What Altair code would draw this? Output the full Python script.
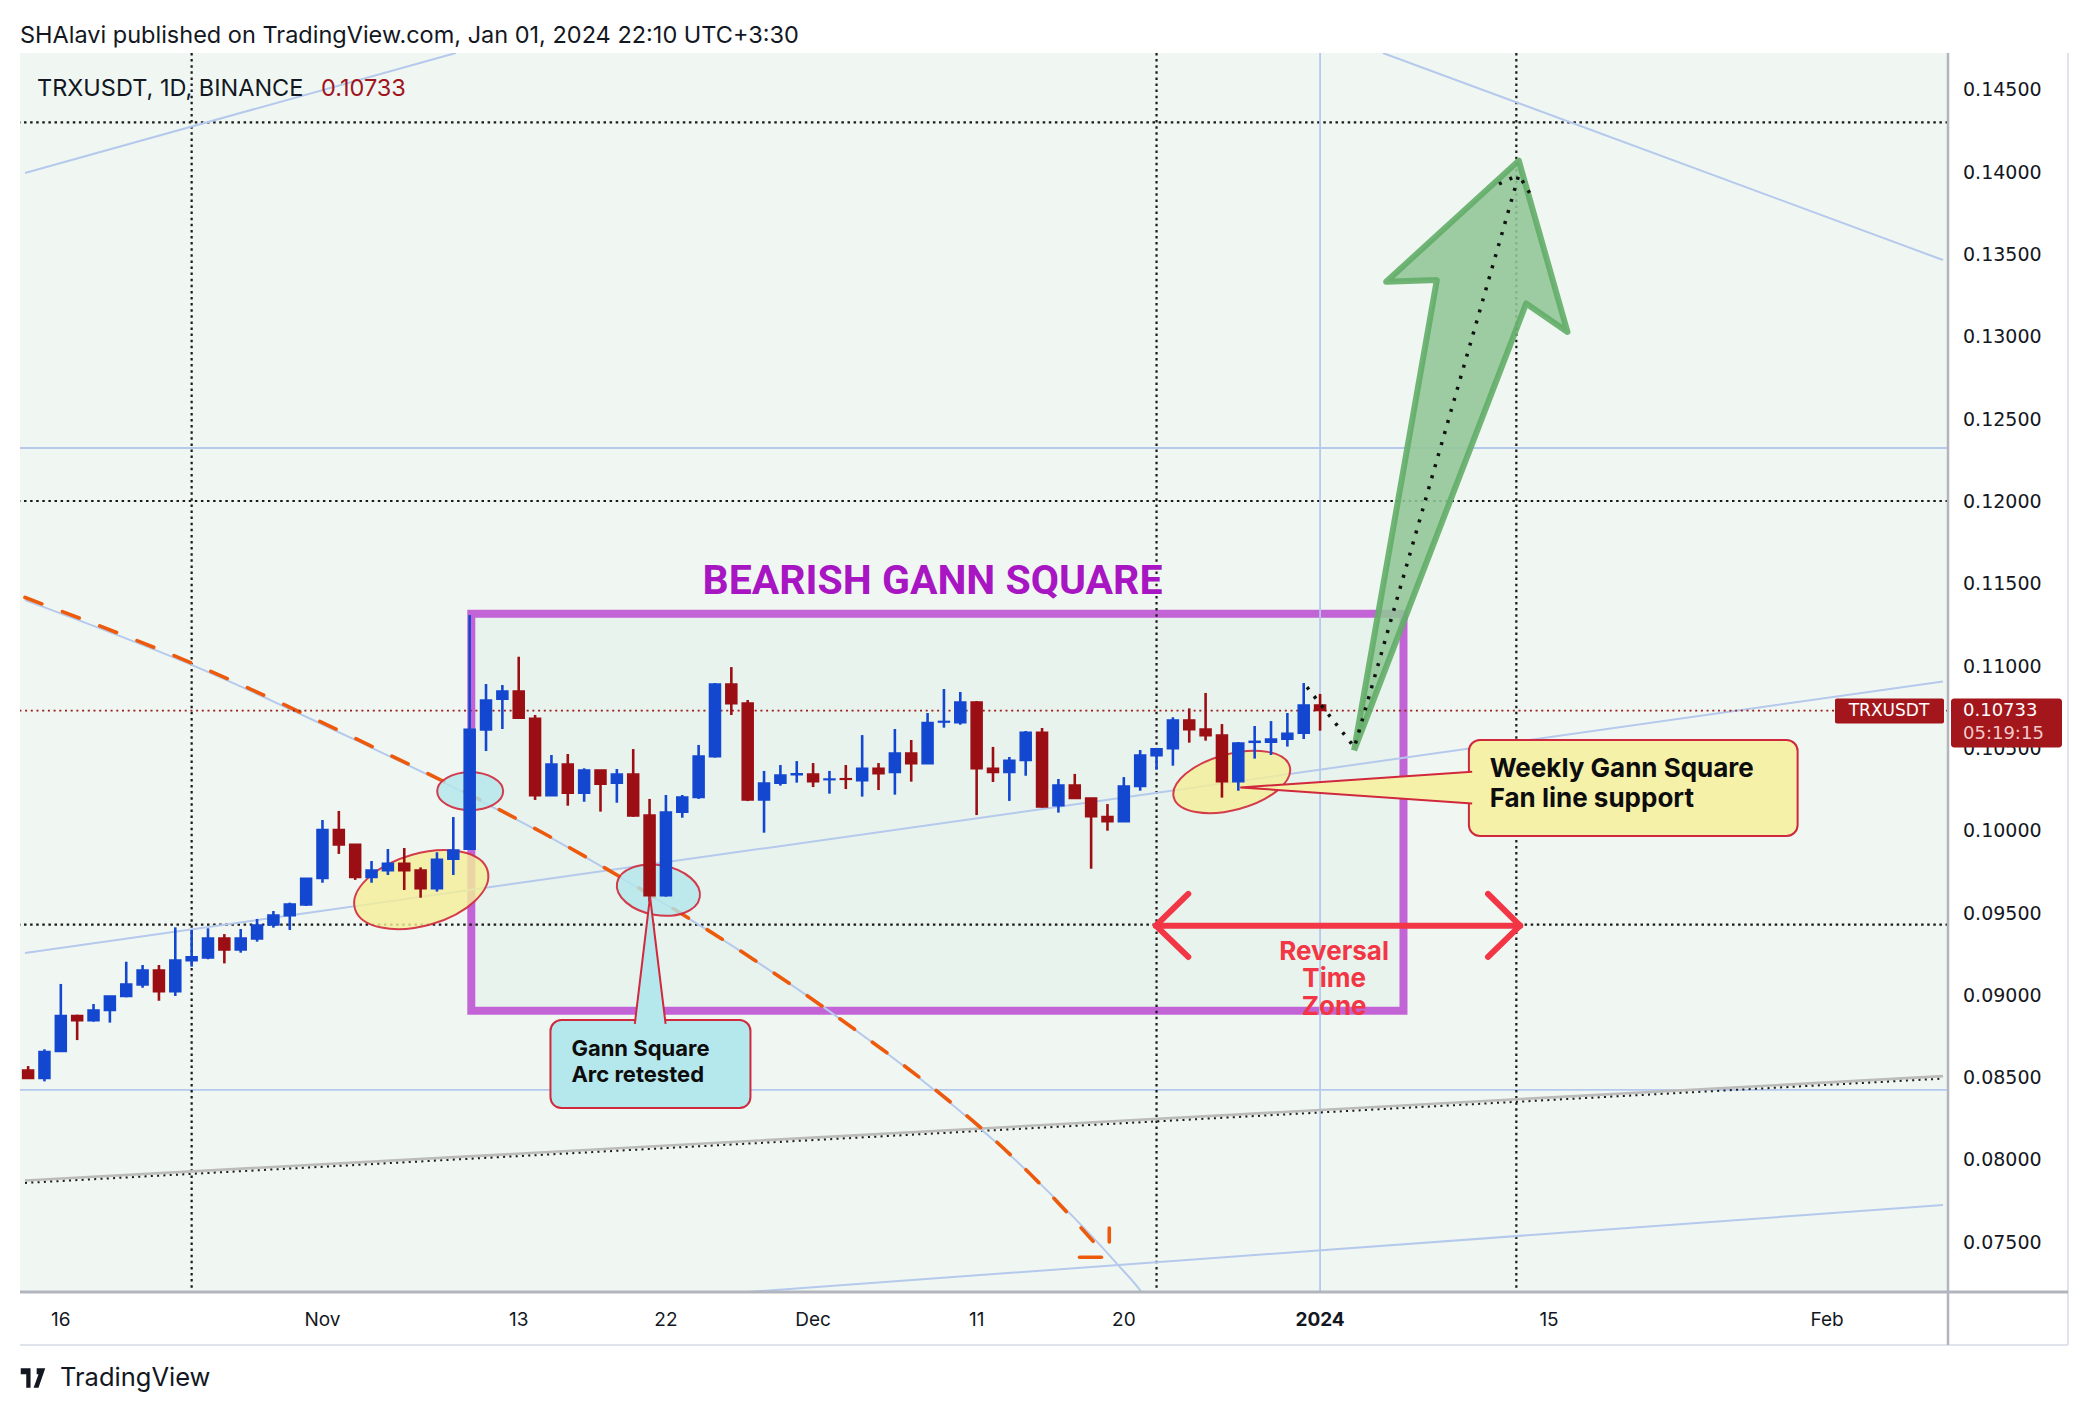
import altair as alt
import pandas as pd

# ---------------- candles (TRXUSDT 1D) ----------------
first_date = "2023-10-14"
origin_date = "2023-10-16"  # day 0 of the x scale
opens = [
    0.08549, 0.08497, 0.08661, 0.08881, 0.08849, 0.08910, 0.08995, 0.09066, 0.09157, 0.09025,
    0.09213, 0.09230, 0.09351, 0.09278, 0.09345, 0.09430, 0.09487, 0.09552,
    0.09712, 0.10011, 0.09920, 0.09718, 0.09760, 0.09805, 0.09764, 0.09651, 0.09829, 0.09890,
    0.10615, 0.10801, 0.10852, 0.10686, 0.10216, 0.10408, 0.10230, 0.10372, 0.10291, 0.10347,
    0.10098, 0.09608, 0.10115, 0.10204, 0.10453, 0.10894, 0.10779, 0.10190, 0.10291, 0.10343,
    0.10347, 0.10313, 0.10319, 0.10307, 0.10382, 0.10356, 0.10475, 0.10410, 0.10663, 0.10659,
    0.10785, 0.10382, 0.10356, 0.10429, 0.10601, 0.10155, 0.10281, 0.10202, 0.10090, 0.10058,
    0.10271, 0.10459, 0.10501, 0.10676, 0.10621, 0.10584, 0.10301, 0.10540, 0.10540, 0.10558,
    0.10595, 0.10767]
highs = [
    0.08573, 0.08675, 0.09072, 0.08885, 0.08950, 0.08999, 0.09207, 0.09187, 0.09187, 0.09416,
    0.09400, 0.09410, 0.09375, 0.09406, 0.09467, 0.09515, 0.09566, 0.09714,
    0.10068, 0.10123, 0.09920, 0.09819, 0.09892, 0.09898, 0.09780, 0.09872, 0.10086, 0.11313,
    0.10894, 0.10888, 0.11060, 0.10706, 0.10463, 0.10469, 0.10382, 0.10372, 0.10378, 0.10499,
    0.10196, 0.10220, 0.10220, 0.10524, 0.10900, 0.10997, 0.10797, 0.10366, 0.10402, 0.10426,
    0.10414, 0.10366, 0.10402, 0.10584, 0.10414, 0.10621, 0.10554, 0.10718, 0.10864, 0.10846,
    0.10791, 0.10512, 0.10451, 0.10609, 0.10627, 0.10317, 0.10348, 0.10202, 0.10165, 0.10329,
    0.10493, 0.10506, 0.10692, 0.10746, 0.10840, 0.10651, 0.10542, 0.10639, 0.10669, 0.10718,
    0.10900, 0.10834]
lows = [
    0.08497, 0.08480, 0.08661, 0.08731, 0.08843, 0.08837, 0.08991, 0.09049, 0.08970, 0.08999,
    0.09177, 0.09222, 0.09197, 0.09262, 0.09329, 0.09414, 0.09400, 0.09546,
    0.09687, 0.09862, 0.09704, 0.09687, 0.09734, 0.09643, 0.09596, 0.09633, 0.09734, 0.09890,
    0.10487, 0.10621, 0.10686, 0.10190, 0.10216, 0.10155, 0.10179, 0.10119, 0.10173, 0.10088,
    0.09572, 0.09602, 0.10082, 0.10196, 0.10447, 0.10706, 0.10183, 0.09991, 0.10277, 0.10295,
    0.10268, 0.10228, 0.10256, 0.10210, 0.10250, 0.10222, 0.10301, 0.10410, 0.10629, 0.10647,
    0.10098, 0.10299, 0.10184, 0.10337, 0.10143, 0.10113, 0.10198, 0.09772, 0.10003, 0.10058,
    0.10246, 0.10374, 0.10398, 0.10538, 0.10550, 0.10204, 0.10246, 0.10441, 0.10463, 0.10514,
    0.10560, 0.10611]
closes = [
    0.08497, 0.08661, 0.08881, 0.08849, 0.08914, 0.08999, 0.09072, 0.09157, 0.09025, 0.09217,
    0.09238, 0.09351, 0.09278, 0.09351, 0.09430, 0.09491, 0.09558, 0.09714,
    0.10011, 0.09916, 0.09718, 0.09764, 0.09805, 0.09760, 0.09651, 0.09829, 0.09886, 0.10619,
    0.10797, 0.10852, 0.10686, 0.10216, 0.10408, 0.10230, 0.10372, 0.10285, 0.10347, 0.10092,
    0.09608, 0.10117, 0.10208, 0.10457, 0.10894, 0.10775, 0.10190, 0.10293, 0.10341, 0.10349,
    0.10301, 0.10317, 0.10315, 0.10382, 0.10349, 0.10475, 0.10410, 0.10661, 0.10667, 0.10785,
    0.10380, 0.10356, 0.10431, 0.10601, 0.10147, 0.10281, 0.10198, 0.10088, 0.10058, 0.10275,
    0.10463, 0.10501, 0.10676, 0.10617, 0.10580, 0.10301, 0.10536, 0.10546, 0.10560, 0.10595,
    0.10767, 0.10733]
last_price = 0.10733

# ---------------- axes ----------------
x_domain = [-2.19, 115.09]
y_domain = [0.072005, 0.147278]
tick_days = [0, 16, 28, 37, 46, 56, 65, 77, 91, 108]
tick_labels = ["16", "Nov", "13", "22", "Dec", "11", "20", "2024", "15", "Feb"]
tick_bold = [False, False, False, False, False, False, False, True, False, False]
price_ticks = [0.075, 0.080, 0.085, 0.090, 0.095, 0.100, 0.105, 0.110,
               0.115, 0.120, 0.125, 0.130, 0.135, 0.140, 0.145]

# ---------------- drawings (day offset, price) ----------------
hline_dotted = [0.14306, 0.12006, 0.09432]
hline_blue = [0.12328, 0.08428]
vline_dotted = [8, 67, 89]
vline_blue = [77]
fan_x1 = [-2.19, 80.84, -2.19, 39.9]
fan_y1 = [0.13999, 0.14728, 0.09260, 0.07185]
fan_x2 = [24.15, 115.09, 115.09, 115.09]
fan_y2 = [0.14728, 0.13470, 0.10910, 0.07729]
grey_x = [-2.19, 115.09]
grey_y = [0.07869, 0.08503]
arc_x = [-2.19, 8.03, 18.92, 23.36, 29.44, 35.52, 42.40, 46.47, 59.85, 64.60, 66.12, 67.15]
arc_y = [0.11404, 0.11009, 0.10511, 0.10298, 0.09988, 0.09642, 0.09217, 0.08943,
         0.07862, 0.07370, 0.07194, 0.07030]
orange_x = [-2.19, 8.03, 18.92, 23.36, 29.44, 35.52, 42.40, 46.47, 59.85, 63.99]
orange_y = [0.11420, 0.11020, 0.10520, 0.10305, 0.09992, 0.09645, 0.09218, 0.08943,
            0.07860, 0.07412]
orange_head_x1 = [64.11, 62.29]
orange_head_y1 = [0.07589, 0.07412]
orange_head_x2 = [64.11, 63.63]
orange_head_y2 = [0.07504, 0.07412]
box_x = [25.1, 82.1]
box_y = [0.08909, 0.11321]
box_title = "BEARISH GANN SQUARE"
box_title_pos = [53.3, 0.11514]

yellow_ell_x = [22.04, 71.6]
yellow_ell_y = [0.09645, 0.10299]
yellow_ell_a = [69, 60]
yellow_ell_b = [36, 28]
yellow_ell_angle = [344, 345]
cyan_ell_x = [25.03, 36.54]
cyan_ell_y = [0.10243, 0.09642]
cyan_ell_a = [33, 42]
cyan_ell_b = [19, 25]
cyan_ell_angle = [0, 10]

call1_box_x = [29.94, 42.17]
call1_box_y = [0.08318, 0.08853]
call1_ptr_x = [35.1, 36.03, 36.98]
call1_ptr_y = [0.08830, 0.09602, 0.08830]
call1_text = ["Gann Square", "Arc retested"]
call1_text_x = [31.22, 31.22]
call1_text_y = [0.08676, 0.08516]

call2_box_x = [86.1, 106.2]
call2_box_y = [0.09971, 0.10554]
call2_ptr_x = [86.3, 72.12, 86.3]
call2_ptr_y = [0.10361, 0.10266, 0.10169]
call2_text = ["Weekly Gann Square", "Fan line support"]
call2_text_x = [87.37, 87.37]
call2_text_y = [0.10375, 0.10196]

zone_x1 = [66.96, 68.94, 68.94, 89.23, 89.23]
zone_y1 = [0.09426, 0.09619, 0.09236, 0.09426, 0.09426]
zone_x2 = [89.23, 66.96, 66.96, 87.27, 87.27]
zone_y2 = [0.09426, 0.09426, 0.09426, 0.09619, 0.09236]
zone_text = ["Reversal", "Time", "Zone"]
zone_text_x = [77.86, 77.86, 77.86]
zone_text_y = [0.09268, 0.09100, 0.08934]

arrow_x = [79.08, 84.14, 81.04, 89.15, 92.13, 89.60, 79.08]
arrow_y = [0.10491, 0.13348, 0.13338, 0.14074, 0.13033, 0.13206, 0.10491]
path_x = [76.2, 79.1, 89.15, 89.97]
path_y = [0.10875, 0.10510, 0.13987, 0.13851]
path2_x = [87.94, 89.15]
path2_y = [0.13932, 0.13987]

header = "SHAlavi published on TradingView.com, Jan 01, 2024 22:10 UTC+3:30"
symbol_text = "TRXUSDT, 1D, BINANCE"
countdown = "05:19:15"

# ---------------- styling ----------------
BLUE = "#1447d0"
RED = "#9b0f14"
MINT = "#f0f7f2"
LBLUE = "#b5c9ec"
AXIS_GREY = "#b2b5be"
W, H = 1928, 1239

day0 = pd.Timestamp(origin_date)
dates = pd.date_range(first_date, periods=len(opens), freq="D")
candles = pd.DataFrame({
    "day": (dates - day0).days,
    "o": opens, "h": highs, "l": lows, "c": closes,
})
candles["lo"] = candles[["o", "c"]].min(axis=1)
candles["hi"] = candles[["o", "c"]].max(axis=1)

xs = alt.Scale(domain=x_domain, nice=False, zero=False)
ys = alt.Scale(domain=y_domain, nice=False, zero=False)


def X(f):
    return alt.X(f, type="quantitative", scale=xs, axis=None)


def Y(f):
    return alt.Y(f, type="quantitative", scale=ys, axis=None)


layers = []

# purple gann box
box_df = pd.DataFrame({"x1": [box_x[0]], "x2": [box_x[1]], "y1": [box_y[0]], "y2": [box_y[1]]})
layers.append(alt.Chart(box_df).mark_rect(fill="#e8f3ed", stroke="#c264d6", strokeWidth=8).encode(
    x=X("x1"), x2="x2", y=Y("y1"), y2="y2"))

# horizontal / vertical levels
layers.append(alt.Chart(pd.DataFrame({"p": hline_dotted})).mark_rule(
    color="#1a1a1a", strokeWidth=2.2, strokeDash=[2.5, 3.6]).encode(y=Y("p")))
layers.append(alt.Chart(pd.DataFrame({"p": hline_blue})).mark_rule(
    color=LBLUE, strokeWidth=1.8).encode(y=Y("p")))
layers.append(alt.Chart(pd.DataFrame({"d": vline_dotted})).mark_rule(
    color="#1a1a1a", strokeWidth=2.2, strokeDash=[2.5, 3.6]).encode(x=X("d")))
layers.append(alt.Chart(pd.DataFrame({"d": vline_blue})).mark_rule(
    color=LBLUE, strokeWidth=1.8).encode(x=X("d")))

# fan lines
fan_df = pd.DataFrame({"x1": fan_x1, "y1": fan_y1, "x2": fan_x2, "y2": fan_y2})
layers.append(alt.Chart(fan_df).mark_rule(color=LBLUE, strokeWidth=2, clip=True).encode(
    x=X("x1"), y=Y("y1"), x2="x2", y2="y2"))
grey_df = pd.DataFrame({"x1": [grey_x[0]], "y1": [grey_y[0]], "x2": [grey_x[1]], "y2": [grey_y[1]]})
layers.append(alt.Chart(grey_df).mark_rule(color="#bcbcbc", strokeWidth=2.6, clip=True,
                                           yOffset=-1.5, y2Offset=-1.5).encode(
    x=X("x1"), y=Y("y1"), x2="x2", y2="y2"))
layers.append(alt.Chart(grey_df).mark_rule(color="#1a1a1a", strokeWidth=2, strokeDash=[2, 4.3],
                                           clip=True, yOffset=1, y2Offset=1).encode(
    x=X("x1"), y=Y("y1"), x2="x2", y2="y2"))

# gann arc + orange dashed trace
arc_df = pd.DataFrame({"x": arc_x, "y": arc_y, "i": range(len(arc_x))})
layers.append(alt.Chart(arc_df).mark_line(color=LBLUE, strokeWidth=2, interpolate="monotone",
                                          clip=True).encode(x=X("x"), y=Y("y"), order="i:Q"))
or_df = pd.DataFrame({"x": orange_x, "y": orange_y, "i": range(len(orange_x))})
layers.append(alt.Chart(or_df).mark_line(color="#ee5a0c", strokeWidth=3.6, strokeDash=[18, 22],
                                         strokeCap="round", interpolate="monotone",
                                         clip=True).encode(x=X("x"), y=Y("y"), order="i:Q"))
orh_df = pd.DataFrame({"x1": orange_head_x1, "y1": orange_head_y1,
                       "x2": orange_head_x2, "y2": orange_head_y2})
layers.append(alt.Chart(orh_df).mark_rule(color="#ee5a0c", strokeWidth=3.6, strokeCap="round").encode(
    x=X("x1"), y=Y("y1"), x2="x2", y2="y2"))

# last price line
layers.append(alt.Chart(pd.DataFrame({"p": [last_price]})).mark_rule(
    color="#9b1a1a", strokeWidth=1.8, strokeDash=[2, 3.7]).encode(y=Y("p")))


def ellipse_df(xv, yv, av, bv, angv):
    rows = []
    for x, y, a, b, ang in zip(xv, yv, av, bv, angv):
        r = b / a
        path = f"M-1,0A1,{r:.4f},0,1,1,1,0A1,{r:.4f},0,1,1,-1,0Z"
        rows.append({"x": x, "y": y, "shape": path, "size": (2 * a) ** 2, "angle": ang})
    return pd.DataFrame(rows)


for df, fill in [(ellipse_df(yellow_ell_x, yellow_ell_y, yellow_ell_a, yellow_ell_b, yellow_ell_angle), "#f4ee98"),
                 (ellipse_df(cyan_ell_x, cyan_ell_y, cyan_ell_a, cyan_ell_b, cyan_ell_angle), "#b3e6ec")]:
    layers.append(alt.Chart(df).mark_point(filled=True, fill=fill, fillOpacity=0.82, stroke="#d0283c",
                                           strokeWidth=2, strokeOpacity=0.9, opacity=1).encode(
        x=X("x"), y=Y("y"),
        shape=alt.Shape("shape:N", scale=None),
        size=alt.Size("size:Q", scale=None),
        angle=alt.Angle("angle:Q", scale=None)))

# candles
col = alt.condition("datum.c >= datum.o", alt.value(BLUE), alt.value(RED))
layers.append(alt.Chart(candles).mark_rule(strokeWidth=2.6, clip=True).encode(
    x=X("day"), y=Y("l"), y2="h", color=col))
layers.append(alt.Chart(candles).mark_bar(size=11, strokeWidth=1.5, clip=True).encode(
    x=X("day"), y=Y("lo"), y2="hi", color=col, stroke=col))

# callouts
for bx, by, px, py, txt, tx, ty, fill, fsize in [
        (call1_box_x, call1_box_y, call1_ptr_x, call1_ptr_y, call1_text, call1_text_x, call1_text_y, "#b5e8ec", 22),
        (call2_box_x, call2_box_y, call2_ptr_x, call2_ptr_y, call2_text, call2_text_x, call2_text_y, "#f6f1a9", 26)]:
    bdf = pd.DataFrame({"x1": [bx[0]], "x2": [bx[1]], "y1": [by[0]], "y2": [by[1]]})
    layers.append(alt.Chart(bdf).mark_rect(fill=fill, stroke="#d0283c", strokeWidth=2,
                                           cornerRadius=11).encode(
        x=X("x1"), x2="x2", y=Y("y1"), y2="y2"))
    pdf = pd.DataFrame({"x": px, "y": py, "i": range(len(px))})
    layers.append(alt.Chart(pdf).mark_line(fill=fill, stroke="#d0283c", strokeWidth=2,
                                           strokeJoin="miter").encode(
        x=X("x"), y=Y("y"), order="i:Q"))
    tdf = pd.DataFrame({"x": tx, "y": ty, "t": txt})
    layers.append(alt.Chart(tdf).mark_text(align="left", baseline="middle", font="Inter",
                                           fontWeight="bold", fontSize=fsize, color="#0d0d0d").encode(
        x=X("x"), y=Y("y"), text="t:N"))

# reversal time zone
zdf = pd.DataFrame({"x1": zone_x1, "y1": zone_y1, "x2": zone_x2, "y2": zone_y2})
layers.append(alt.Chart(zdf).mark_rule(color="#f23645", strokeWidth=6, strokeCap="round").encode(
    x=X("x1"), y=Y("y1"), x2="x2", y2="y2"))
layers.append(alt.Chart(pd.DataFrame({"x": zone_text_x, "y": zone_text_y, "t": zone_text})).mark_text(
    align="center", baseline="middle", font="Inter", fontWeight="bold", fontSize=26,
    color="#f23645").encode(x=X("x"), y=Y("y"), text="t:N"))

# box title
layers.append(alt.Chart(pd.DataFrame({"x": [box_title_pos[0]], "y": [box_title_pos[1]], "t": [box_title]})).mark_text(
    align="center", baseline="middle", font="Roboto", fontWeight="bold", fontSize=41,
    color="#a815c2").encode(x=X("x"), y=Y("y"), text="t:N"))

# green arrow
adf = pd.DataFrame({"x": arrow_x, "y": arrow_y, "i": range(len(arrow_x))})
layers.append(alt.Chart(adf).mark_line(fill="#91c697", fillOpacity=0.88, stroke="#63ad68",
                                       strokeOpacity=0.9, strokeWidth=6, strokeJoin="round").encode(
    x=X("x"), y=Y("y"), order="i:Q"))
for pxs, pys in [(path_x, path_y), (path2_x, path2_y)]:
    pdf = pd.DataFrame({"x": pxs, "y": pys, "i": range(len(pxs))})
    layers.append(alt.Chart(pdf).mark_line(color="#111", strokeWidth=3.5, strokeDash=[3, 8.5]).encode(
        x=X("x"), y=Y("y"), order="i:Q"))

# axis frame lines
frame = pd.DataFrame({"k": [0]})
layers.append(alt.Chart(frame).mark_rule(color="#e0e3eb", strokeWidth=2).encode(
    x=alt.value(0), x2=alt.value(2048), y=alt.value(1292), y2=alt.value(1292)))
layers.append(alt.Chart(frame).mark_rule(color="#e0e3eb", strokeWidth=2).encode(
    x=alt.value(2048), x2=alt.value(2048), y=alt.value(0), y2=alt.value(1292)))
layers.append(alt.Chart(frame).mark_rule(color=AXIS_GREY, strokeWidth=2.5).encode(
    x=alt.value(1928), x2=alt.value(1928), y=alt.value(0), y2=alt.value(1292)))
layers.append(alt.Chart(frame).mark_rule(color=AXIS_GREY, strokeWidth=3).encode(
    x=alt.value(0), x2=alt.value(2048), y=alt.value(1239), y2=alt.value(1239)))

# price axis labels (through the y scale)
layers.append(alt.Chart(pd.DataFrame({"p": price_ticks})).mark_text(
    align="left", baseline="middle", font="DejaVu Sans", fontSize=19, color="#131722").encode(
    x=alt.value(1943), y=Y("p"), text=alt.Text("p:Q", format=".5f")))

# time axis labels (through the x scale)
tick_df = pd.DataFrame({"d": tick_days, "t": tick_labels, "b": tick_bold})
layers.append(alt.Chart(tick_df).transform_filter("!datum.b").mark_text(
    align="center", baseline="middle", font="Inter", fontSize=19, color="#131722").encode(
    x=X("d"), y=alt.value(1267), text="t:N"))
layers.append(alt.Chart(tick_df).transform_filter("datum.b").mark_text(
    align="center", baseline="middle", font="Inter", fontSize=19, fontWeight="bold",
    color="#131722").encode(x=X("d"), y=alt.value(1267), text="t:N"))

# price tags on the right
tag_df = pd.DataFrame({"p": [last_price], "name": ["TRXUSDT"], "price": [f"{last_price:.5f}"],
                       "cd": [countdown]})
layers.append(alt.Chart(tag_df).mark_rect(color="#a3161b", yOffset=-12, y2Offset=13, cornerRadius=2).encode(
    x=alt.value(1815), x2=alt.value(1924), y=Y("p"), y2="p"))
layers.append(alt.Chart(tag_df).mark_rect(color="#a3161b", yOffset=-12, y2Offset=37, cornerRadius=3).encode(
    x=alt.value(1931), x2=alt.value(2042), y=Y("p"), y2="p"))
layers.append(alt.Chart(tag_df).mark_text(align="center", baseline="middle", font="DejaVu Sans",
                                          fontSize=17, color="white").encode(
    x=alt.value(1869), y=Y("p"), text="name:N"))
layers.append(alt.Chart(tag_df).mark_text(align="left", baseline="middle", font="DejaVu Sans",
                                          fontSize=18, color="white").encode(
    x=alt.value(1943), y=Y("p"), text="price:N"))
layers.append(alt.Chart(tag_df).mark_text(align="left", baseline="middle", font="DejaVu Sans",
                                          fontSize=18, color="#f3c9c9", dy=23).encode(
    x=alt.value(1943), y=Y("p"), text="cd:N"))

# header / footer texts
head_df = pd.DataFrame({"t": [header]})
layers.append(alt.Chart(head_df).mark_text(align="left", baseline="middle", font="Inter",
                                           fontSize=23.5, color="#131722").encode(
    x=alt.value(0), y=alt.value(-17), text="t:N"))
sym_df = pd.DataFrame({"t": [symbol_text], "p": [f"{last_price:.5f}"]})
layers.append(alt.Chart(sym_df).mark_text(align="left", baseline="middle", font="Inter",
                                          fontSize=23.5, color="#131722").encode(
    x=alt.value(17), y=alt.value(36), text="t:N"))
layers.append(alt.Chart(sym_df).mark_text(align="left", baseline="middle", font="Inter",
                                          fontSize=23.5, color="#a0141e").encode(
    x=alt.value(301), y=alt.value(36), text="p:N"))
logo_path = ("M-1,-0.8L-0.2,-0.8L-0.2,0.8L-0.55,0.8L-0.55,-0.3L-1,-0.3Z"
             "M0.3,-0.8L1,-0.8L0.45,0.8L0.05,0.8L0.45,-0.3L0.3,-0.3Z")
layers.append(alt.Chart(pd.DataFrame({"s": [logo_path]})).mark_point(
    filled=True, color="#131722", opacity=1, size=600).encode(
    x=alt.value(13), y=alt.value(1325), shape=alt.Shape("s:N", scale=None)))
layers.append(alt.Chart(pd.DataFrame({"t": ["TradingView"]})).mark_text(
    align="left", baseline="middle", font="Inter", fontSize=25.5, color="#131722").encode(
    x=alt.value(40), y=alt.value(1325), text="t:N"))

chart = alt.layer(*layers).properties(
    width=W, height=H,
    autosize=alt.AutoSizeParams(type="none"),
    padding={"left": 12, "top": 45, "right": 130, "bottom": 110},
    background="white",
).configure_view(fill=MINT, stroke=None)

chart.save("out.html", embed_options={"renderer": "svg", "actions": False})
